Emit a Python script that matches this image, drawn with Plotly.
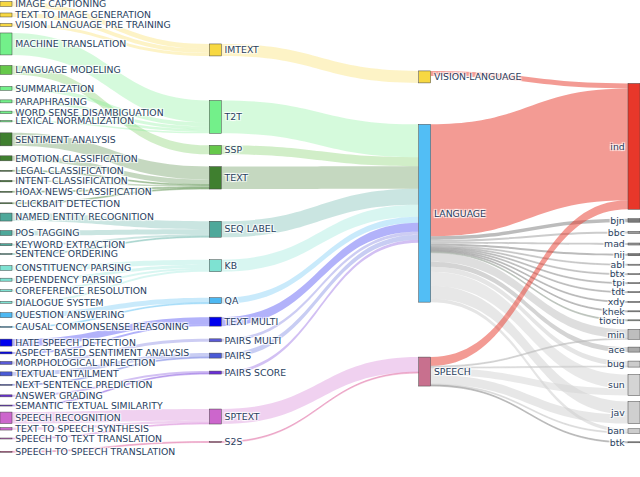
import plotly.graph_objects as go

# ---------------- data ----------------
tasks = [
    "IMAGE CAPTIONING", "TEXT TO IMAGE GENERATION", "VISION LANGUAGE PRE TRAINING",
    "MACHINE TRANSLATION", "LANGUAGE MODELING", "SUMMARIZATION", "PARAPHRASING",
    "WORD SENSE DISAMBIGUATION", "LEXICAL NORMALIZATION", "SENTIMENT ANALYSIS",
    "EMOTION CLASSIFICATION", "LEGAL CLASSIFICATION", "INTENT CLASSIFICATION",
    "HOAX NEWS CLASSIFICATION", "CLICKBAIT DETECTION", "NAMED ENTITY RECOGNITION",
    "POS TAGGING", "KEYWORD EXTRACTION", "SENTENCE ORDERING", "CONSTITUENCY PARSING",
    "DEPENDENCY PARSING", "COREFERENCE RESOLUTION", "DIALOGUE SYSTEM",
    "QUESTION ANSWERING", "CAUSAL COMMONSENSE REASONING", "HATE SPEECH DETECTION",
    "ASPECT BASED SENTIMENT ANALYSIS", "MORPHOLOGICAL INFLECTION", "TEXTUAL ENTAILMENT",
    "NEXT SENTENCE PREDICTION", "ANSWER GRADING", "SEMANTIC TEXTUAL SIMILARITY",
    "SPEECH RECOGNITION", "TEXT TO SPEECH SYNTHESIS", "SPEECH TO TEXT TRANSLATION",
    "SPEECH TO SPEECH TRANSLATION",
]
task_values = [
    5, 4, 3,
    22, 9, 4, 3,
    2.5, 1.5, 13,
    5, 1, 1.5,
    1, 1, 8,
    5, 2, 1, 5,
    3, 2, 2,
    5, 1, 7,
    2, 3, 4,
    1, 2, 1,
    11.5, 2.5, 1,
    1,
]
task_category = [
    "IMTEXT", "IMTEXT", "IMTEXT",
    "T2T", "SSP", "T2T", "T2T",
    "T2T", "T2T", "TEXT",
    "TEXT", "TEXT", "TEXT",
    "TEXT", "TEXT", "SEQ LABEL",
    "SEQ LABEL", "SEQ LABEL", "SEQ LABEL", "KB",
    "KB", "KB", "KB",
    "QA", "QA", "TEXT MULTI",
    "TEXT MULTI", "PAIRS MULTI", "PAIRS",
    "PAIRS", "PAIRS SCORE", "PAIRS SCORE",
    "SPTEXT", "SPTEXT", "SPTEXT",
    "S2S",
]
categories = ["IMTEXT", "T2T", "SSP", "TEXT", "SEQ LABEL", "KB", "QA", "TEXT MULTI",
              "PAIRS MULTI", "PAIRS", "PAIRS SCORE", "SPTEXT", "S2S"]
category_modality = ["VISION-LANGUAGE", "LANGUAGE", "LANGUAGE", "LANGUAGE", "LANGUAGE",
                     "LANGUAGE", "LANGUAGE", "LANGUAGE", "LANGUAGE", "LANGUAGE",
                     "LANGUAGE", "SPEECH", "SPEECH"]
modalities = ["VISION-LANGUAGE", "LANGUAGE", "SPEECH"]
languages = ["ind", "bjn", "bbc", "mad", "nij", "abl", "btx", "tpi", "tdt", "xdy", "khek",
             "tiociu", "min", "ace", "bug", "sun", "jav", "ban", "btk"]
vision_language_to_lang = [5, 0, 0, 0, 0, 0, 0, 0, 0, 0, 0, 0, 0, 0, 0, 0, 0, 0, 0]
language_to_lang = [112, 3.5, 2, 2, 2, 1, 1, 1, 1, 1, 1, 1, 9, 5, 5, 14, 13, 3.5, 0]
speech_to_lang = [9, 0, 0, 0, 0, 0, 0, 0, 0, 0, 0, 0, 1, 0, 1, 7, 9, 1, 1]

# ---------------- styles / positions ----------------
W, H_FIG = 640, 477
M_T = 0
H = 3 * sum(task_values)          # sankey domain height (px) so that 1 unit = 1 px
M_B = H_FIG - M_T - H

category_colors = {
    "IMTEXT": "#f7d842", "T2T": "#73f08a", "SSP": "#66c84a", "TEXT": "#3f7f2f",
    "SEQ LABEL": "#4ea89a", "KB": "#7ee2d2", "QA": "#4db8f2", "TEXT MULTI": "#0000ee",
    "PAIRS MULTI": "#5a5ad8", "PAIRS": "#4a5ad6", "PAIRS SCORE": "#6a2ed8",
    "SPTEXT": "#cc66cc", "S2S": "#d6458a",
}
modality_colors = {"VISION-LANGUAGE": "#f7d842", "LANGUAGE": "#52bef5", "SPEECH": "#c8708e"}
language_colors = ["#e8372a", "#7a7a7a", "#9a9a9a", "#9a9a9a", "#777777", "#b0b0b0",
                   "#a8a8a8", "#a0a0a0", "#a0a0a0", "#999999", "#999999", "#a0aaa0",
                   "#bdbdbd", "#aaaaaa", "#cccccc", "#d4d4d4", "#cfcfcf", "#cccccc", "#999999"]

# node centers in pixels from top of plot area
task_y = [4, 15, 25, 44, 70, 88.5, 101.5, 112.5, 121.3, 139.5, 158.5, 171, 181.3, 192,
          203.5, 217.3, 233.3, 245, 254.3, 268.3, 280, 291, 302.7, 315.5, 327.3, 343,
          353.3, 363.3, 374.3, 385.3, 396.3, 406, 418.3, 429.3, 439, 452.3]
category_y = [50, 117, 150, 178, 229.5, 266, 301, 322, 340.7, 356, 373, 417, 442.5]
modality_y = [77, 213.5, 372]
language_y = [146.5, 220.7, 232.7, 244.3, 255, 265, 274.5, 283.5, 292.5, 302.3, 311.7,
              320.7, 334.7, 350, 364.5, 385.5, 413, 431.5, 442.8]
THICK = 12
col_x = [6 / W, (6 + (W - THICK) / 3) / W, (6 + 2 * (W - THICK) / 3) / W, (W - 6) / W]


def rgba(hexcol, a):
    h = hexcol.lstrip("#")
    r, g, b = int(h[0:2], 16), int(h[2:4], 16), int(h[4:6], 16)
    return f"rgba({r},{g},{b},{a})"


labels = tasks + categories + modalities + languages
node_colors = ([category_colors[c] for c in task_category]
               + [category_colors[c] for c in categories]
               + [modality_colors[m] for m in modalities]
               + language_colors)
node_x = ([col_x[0]] * len(tasks) + [col_x[1]] * len(categories)
          + [col_x[2]] * len(modalities) + [col_x[3]] * len(languages))
node_y = [y / H for y in task_y + category_y + modality_y + language_y]

idx = {name: i for i, name in enumerate(labels)}
src, tgt, val, lcol = [], [], [], []

for t, v, c in zip(tasks, task_values, task_category):
    src.append(idx[t]); tgt.append(idx[c]); val.append(v)
    lcol.append(rgba(category_colors[c], 0.3))

for c, m in zip(categories, category_modality):
    v = sum(tv for tv, tc in zip(task_values, task_category) if tc == c)
    src.append(idx[c]); tgt.append(idx[m]); val.append(v)
    lcol.append(rgba(category_colors[c], 0.3))

for m, vals in zip(modalities, [vision_language_to_lang, language_to_lang, speech_to_lang]):
    for lang, v, col in zip(languages, vals, language_colors):
        if v > 0:
            src.append(idx[m]); tgt.append(idx[lang]); val.append(v)
            lcol.append(rgba(col, 0.5))

fig = go.Figure(go.Sankey(
    arrangement="fixed",
    node=dict(label=labels, color=node_colors, x=node_x, y=node_y,
              thickness=THICK, pad=20,
              line=dict(color="#444", width=0.5)),
    link=dict(source=src, target=tgt, value=val, color=lcol),
    textfont=dict(family="DejaVu Sans", size=9.3, color="#2a3f5f"),
))
fig.update_layout(width=W, height=H_FIG,
                  margin=dict(l=0, r=0, t=M_T, b=M_B),
                  paper_bgcolor="white", plot_bgcolor="white")
fig.write_html("out.html", config={"displayModeBar": False},
               post_script="document.body.style.margin='0';")
